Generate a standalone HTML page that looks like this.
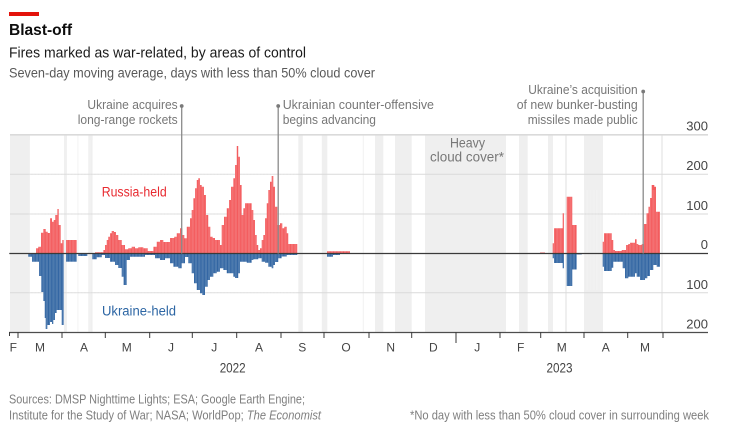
<!DOCTYPE html>
<html><head><meta charset="utf-8"><style>
html,body{margin:0;padding:0;background:#fff;}
svg{display:block;}
text{font-family:"Liberation Sans",sans-serif;}
</style></head><body>
<svg width="742" height="432" viewBox="0 0 742 432" xmlns="http://www.w3.org/2000/svg">
<rect x="0" y="0" width="742" height="432" fill="#fff"/>
<!-- header -->
<rect x="9" y="12" width="30" height="4" fill="#e3120b"/>
<text x="9" y="35" font-size="15.5" font-weight="bold" fill="#0d0d0d" textLength="63" lengthAdjust="spacingAndGlyphs">Blast-off</text>
<text x="9" y="57.3" font-size="14.5" fill="#1a1a1a" textLength="297" lengthAdjust="spacingAndGlyphs">Fires marked as war-related, by areas of control</text>
<text x="9" y="77.3" font-size="13.5" fill="#595959" textLength="366" lengthAdjust="spacingAndGlyphs">Seven-day moving average, days with less than 50% cloud cover</text>

<!-- cloud bands -->
<g fill="#efefef">
<rect x="10" y="134" width="20" height="198"/>
<rect x="64" y="134" width="3" height="198"/>
<rect x="77.3" y="134" width="1.2" height="198" fill="#f4f4f4"/>
<rect x="88.3" y="134" width="4.4" height="198"/>
<rect x="298.3" y="134" width="4.5" height="198"/>
<rect x="321.8" y="134" width="5.5" height="198"/>
<rect x="362.7" y="134" width="1.3" height="198" fill="#f4f4f4"/>
<rect x="375" y="134" width="8.3" height="198"/>
<rect x="395" y="134" width="16.7" height="198"/>
<rect x="425" y="134" width="81" height="198"/>
<rect x="519" y="134" width="8.7" height="198"/>
<rect x="548" y="134" width="5" height="198"/>
<rect x="565" y="134" width="2" height="198"/>
<rect x="584" y="134" width="19" height="198"/>
<rect x="661" y="134" width="2" height="198"/>
</g>

<!-- gridlines -->
<g stroke="#dadada" stroke-width="1">
<line x1="10" y1="134.8" x2="708" y2="134.8" stroke-width="1.6"/>
<line x1="10" y1="174.3" x2="708" y2="174.3"/>
<line x1="10" y1="214" x2="708" y2="214"/>
<line x1="10" y1="292.7" x2="708" y2="292.7"/>
</g>

<!-- Russia-held bars -->
<g fill="#f35a5c">
<path d="M36,253.5 V248.3 H38.3 V246.7 H41 V232.7 H43.3 V229 H45.7 V231.7 H47.7 V233 H50 V218.3 H52 V221.7 H53.7 V220 H55.3 V215 H57.3 V209 H58.7 V225 H60.7 V243.3 H62.3 V240 H63.7 V253.5 Z"/>
<path d="M66,253.5 V240 H76.7 V253.5 Z"/>
<path d="M95,253.5 V252.3 H103.3 V250 H105 V245 H106.7 V240 H108.3 V236.7 H110 V233.3 H111.7 V231 H114 V232 H116 V235 H118.3 V240 H121.7 V245 H125 V249.3 H128.3 V248.3 H131.7 V246.7 H135 V248.3 H138.3 V247.3 H143.3 V248.3 H147.7 V251 H153.3 V246.7 H156.7 V241.7 H160 V240 H163.3 V242 H170 V238 H174.3 V236.7 H176.7 V233.3 H180 V228.3 H182.3 V235 H184.3 V238.3 H186.7 V226.7 H190 V218.3 H191.7 V210 H193.3 V198.3 H195 V188.3 H196.7 V180 H198.3 V178.3 H200 V185 H201.7 V186.7 H204 V195 H206 V215 H208.3 V226.7 H210.3 V236.7 H212.7 V238 H215 V240 H220 V245 H221.7 V225 H224 V216.7 H226.7 V208.3 H229 V200 H231 V186.7 H233.3 V178.3 H235 V165 H236.7 V146 H238.3 V156.7 H240 V185 H241.7 V215 H243.3 V208.3 H245 V203.3 H251.7 V210 H253.3 V220 H255 V235 H256.7 V245 H258.3 V250 H260 V248.3 H261.7 V240 H263.3 V235 H265 V218.3 H266.7 V203.3 H268.3 V190 H270 V181.7 H271.7 V176 H273.3 V186.7 H275 V206.7 H277.3 V225 H280 V223.3 H282.3 V228.3 H284.3 V226.7 H286.7 V233.3 H288.3 V244 H297.3 V253.5 Z"/>
<path d="M327,253.5 V251.3 H350 V253.5 Z"/>
<path d="M540,253.5 V252.5 H545 V253.5 Z"/>
<path d="M552.7,253.5 V243.3 H554 V228.3 H562.7 V213.3 H564 V253.5 Z"/>
<path d="M566.7,253.5 V196.7 H572.3 V225 H576.7 V253.5 Z"/>
<path d="M602.7,253.5 V241.7 H604 V233.3 H611.7 V240 H613.3 V250 H615 V251 H621.7 V250 H626 V245 H628.3 V244 H630 V242.7 H635 V239.3 H636.7 V244 H638.3 V245 H641.7 V244 H644 V224 H646.5 V213.3 H648.5 V206.7 H650 V198 H651.7 V185 H654.3 V186.7 H656 V211.7 H660 V253.5 Z"/>
</g>

<!-- Ukraine-held bars -->
<g fill="#3165a2">
<path d="M28.3,253.5 V256.7 H32 V261.7 H39 V276 H41.3 V292 H43.3 V301 H44.7 V318 H45.7 V329 H47.3 V325 H50 V322 H52 V324 H53.3 V320 H55 V313 H56.7 V310 H61.7 V325 H63.7 V253.5 Z"/>
<path d="M66,253.5 V261.7 H76.7 V253.5 Z"/>
<path d="M78.3,253.5 V256 H87.3 V253.5 Z"/>
<path d="M92.3,253.5 V259.3 H96.7 V257.3 H101.7 V255 H105 V258 H110 V261.7 H115 V265 H118.3 V268 H121.7 V276.7 H123.5 V285 H126.7 V260 H130 V256.7 H145 V255 H155 V258.3 H160 V260 H165 V258.3 H170 V263.3 H173.3 V266.7 H178.3 V268.3 H181.7 V263.3 H185 V257 H188.3 V263.3 H191.7 V273.3 H194 V283.3 H196.7 V290 H200 V293.3 H202.3 V295 H205 V286.7 H207.7 V280 H210 V276.7 H213.3 V273.3 H216.7 V271.7 H220 V268.3 H223.3 V270 H226.7 V273.3 H233.3 V276.7 H235 V278 H238.3 V273.3 H240 V261.7 H246.7 V262.7 H251.7 V260 H253.3 V259.3 H258.3 V258.3 H261.7 V261.7 H265 V262.7 H268.3 V266.7 H271.7 V268.3 H273.3 V265 H275 V262 H278.3 V258.3 H281.7 V256.5 H286.7 V255 H297.3 V253.5 Z"/>
<path d="M327,253.5 V256.7 H333 V255 H340 V253.5 Z"/>
<path d="M552.7,253.5 V258.3 H554 V263 H562.7 V268.3 H564 V253.5 Z"/>
<path d="M566.7,253.5 V286 H572.3 V269.5 H576.7 V254.5 H581.7 V253.5 Z"/>
<path d="M602.7,253.5 V266.7 H604 V271 H611.7 V267.7 H613.3 V261.7 H622.7 V268.3 H625 V278.3 H628.3 V276.7 H635 V273.3 H636.7 V276.7 H640 V280 H645 V278.3 H647.3 V276 H650 V270 H653.3 V265 H656.7 V266.7 H660 V253.5 Z"/>
</g>

<!-- bar separators (subtle) -->
<defs>
<pattern id="sep" x="0.3" y="0" width="1.432" height="10" patternUnits="userSpaceOnUse">
<rect x="0" y="0" width="0.3" height="10" fill="#fff" fill-opacity="0.45"/>
</pattern>
</defs>
<rect x="28" y="140" width="270" height="192" fill="url(#sep)"/>
<rect x="326" y="240" width="25" height="20" fill="url(#sep)"/>
<rect x="552" y="190" width="110" height="100" fill="url(#sep)"/>

<!-- zero line and axis -->
<line x1="9.3" y1="253.5" x2="708" y2="253.5" stroke="#3a3a3a" stroke-width="1.2"/>
<line x1="9" y1="332.5" x2="708" y2="332.5" stroke="#4d4d4d" stroke-width="1.2"/>

<!-- ticks -->
<g stroke="#3a3a3a" stroke-width="1">
<line x1="9.5" y1="332" x2="9.5" y2="336"/>
<line x1="18" y1="332" x2="18" y2="338"/>
<line x1="62" y1="332" x2="62" y2="338"/>
<line x1="105.3" y1="332" x2="105.3" y2="338"/>
<line x1="149.7" y1="332" x2="149.7" y2="338"/>
<line x1="192.3" y1="332" x2="192.3" y2="338"/>
<line x1="236.7" y1="332" x2="236.7" y2="338"/>
<line x1="281" y1="332" x2="281" y2="338"/>
<line x1="324" y1="332" x2="324" y2="338"/>
<line x1="369" y1="332" x2="369" y2="338"/>
<line x1="411.7" y1="332" x2="411.7" y2="338"/>
<line x1="456" y1="332" x2="456" y2="343"/>
<line x1="500" y1="332" x2="500" y2="338"/>
<line x1="540.7" y1="332" x2="540.7" y2="338"/>
<line x1="584" y1="332" x2="584" y2="338"/>
<line x1="627.7" y1="332" x2="627.7" y2="338"/>
<line x1="663" y1="332" x2="663" y2="338"/>
</g>

<!-- month labels -->
<g font-size="12" fill="#444" text-anchor="middle">
<text x="13.3" y="351.7">F</text>
<text x="40" y="351.7">M</text>
<text x="84" y="351.7">A</text>
<text x="126.7" y="351.7">M</text>
<text x="171" y="351.7">J</text>
<text x="214.3" y="351.7">J</text>
<text x="259" y="351.7">A</text>
<text x="302.3" y="351.7">S</text>
<text x="346" y="351.7">O</text>
<text x="390.7" y="351.7">N</text>
<text x="433.3" y="351.7">D</text>
<text x="477.3" y="351.7">J</text>
<text x="520.7" y="351.7">F</text>
<text x="561.7" y="351.7">M</text>
<text x="605.7" y="351.7">A</text>
<text x="645" y="351.7">M</text>
</g>
<g font-size="13.5" fill="#444" text-anchor="middle">
<text x="232.7" y="372.7" textLength="26" lengthAdjust="spacingAndGlyphs">2022</text>
<text x="559.5" y="372.7" textLength="26" lengthAdjust="spacingAndGlyphs">2023</text>
</g>

<!-- y labels -->
<g font-size="13" fill="#444" text-anchor="end">
<text x="708" y="130.7">300</text>
<text x="708" y="170">200</text>
<text x="708" y="210">100</text>
<text x="708" y="249">0</text>
<text x="708" y="289">100</text>
<text x="708" y="328.3">200</text>
</g>

<!-- series labels -->
<text x="101.7" y="196.3" font-size="13.5" fill="#e82a30" textLength="65" lengthAdjust="spacingAndGlyphs">Russia-held</text>
<text x="102" y="315.3" font-size="13.5" fill="#2d66a4" textLength="74" lengthAdjust="spacingAndGlyphs">Ukraine-held</text>

<!-- annotations -->
<g stroke="#8a8a8a" stroke-width="1.3">
<line x1="181.7" y1="106" x2="181.7" y2="253.5"/>
<line x1="278.2" y1="106" x2="278.2" y2="253.5"/>
<line x1="643.2" y1="91.5" x2="643.2" y2="253.5"/>
</g>
<g fill="#7a7a7a">
<circle cx="181.7" cy="106" r="1.9"/>
<circle cx="278.2" cy="106" r="1.9"/>
<circle cx="643.2" cy="91.5" r="1.9"/>
</g>
<g font-size="13" fill="#777">
<text x="177.7" y="109" text-anchor="end" textLength="90.3" lengthAdjust="spacingAndGlyphs">Ukraine acquires</text>
<text x="177.7" y="124" text-anchor="end" textLength="100" lengthAdjust="spacingAndGlyphs">long-range rockets</text>
<text x="282.7" y="109" textLength="151.3" lengthAdjust="spacingAndGlyphs">Ukrainian counter-offensive</text>
<text x="282.7" y="124" textLength="93.3" lengthAdjust="spacingAndGlyphs">begins advancing</text>
<text x="637.7" y="94" text-anchor="end" textLength="109.4" lengthAdjust="spacingAndGlyphs">Ukraine’s acquisition</text>
<text x="637.7" y="109" text-anchor="end" textLength="121" lengthAdjust="spacingAndGlyphs">of new bunker-busting</text>
<text x="637.7" y="124" text-anchor="end" textLength="110" lengthAdjust="spacingAndGlyphs">missiles made public</text>
<text x="467.5" y="147.3" text-anchor="middle" font-size="13.5" textLength="35" lengthAdjust="spacingAndGlyphs">Heavy</text>
<text x="467" y="161.7" text-anchor="middle" font-size="13.5" textLength="74" lengthAdjust="spacingAndGlyphs">cloud cover*</text>
</g>

<!-- footer -->
<g font-size="12.5" fill="#7f7f7f">
<text x="9" y="403.3" textLength="296" lengthAdjust="spacingAndGlyphs">Sources: DMSP Nighttime Lights; ESA; Google Earth Engine;</text>
<text x="9" y="419.3" textLength="312" lengthAdjust="spacingAndGlyphs">Institute for the Study of War; NASA; WorldPop; <tspan font-style="italic">The Economist</tspan></text>
<text x="709" y="419.3" text-anchor="end" textLength="299" lengthAdjust="spacingAndGlyphs">*No day with less than 50% cloud cover in surrounding week</text>
</g>
</svg>
</body></html>
